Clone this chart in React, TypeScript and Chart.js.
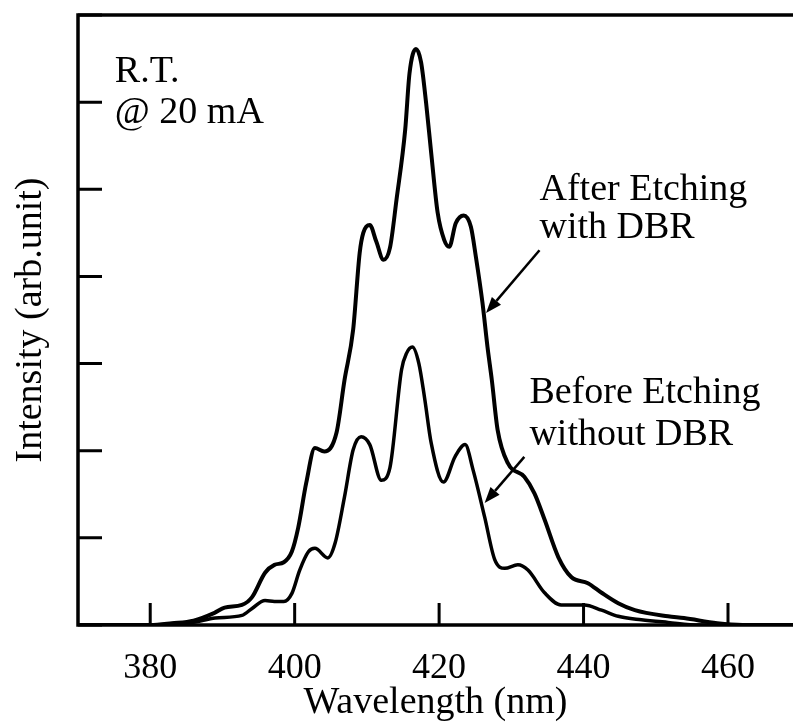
import React, { useEffect, useRef } from 'react';
import { Chart, registerables } from 'chart.js';

Chart.register(...registerables);

// ---- Data ----
const afterWl = [370, 380, 383, 386, 388.9, 390.3, 392.7, 394.1, 395.9, 397.2, 398.5, 399.6, 400.5, 401.6, 402.8, 404.1, 405.8, 406.9, 408.1, 409.0, 409.5, 410.4, 411.3, 412.3, 413.2, 414.1, 415.3, 415.9, 416.8, 417.5, 418.2, 418.9, 419.8, 420.7, 421.4, 422.3, 423.4, 424.4, 425.1, 426.0, 426.7, 427.3, 428.1, 429.5, 431.8, 433.2, 434.6, 436.5, 438.3, 440.6, 442.5, 444.8, 447.1, 451.7, 453.9, 458.5, 462, 469];
const afterInt = [0, 0, 0.02, 0.05, 0.14, 0.2, 0.23, 0.32, 0.6, 0.69, 0.72, 0.84, 1.12, 1.63, 2.03, 1.99, 2.21, 2.81, 3.39, 4.27, 4.5, 4.59, 4.4, 4.19, 4.33, 4.88, 5.68, 6.33, 6.61, 6.46, 5.99, 5.42, 4.73, 4.42, 4.34, 4.61, 4.7, 4.57, 4.22, 3.7, 3.19, 2.81, 2.24, 1.86, 1.7, 1.51, 1.21, 0.78, 0.55, 0.48, 0.37, 0.25, 0.17, 0.1, 0.08, 0.02, 0, 0];

const beforeWl = [370, 382, 386, 389, 392.7, 394.1, 395.9, 397.2, 398.5, 399.6, 400.7, 401.9, 402.8, 404.6, 405.6, 406.9, 408.1, 409.2, 410.4, 412.0, 413.2, 414.8, 415.5, 416.3, 417.2, 418.0, 418.9, 420.6, 422.2, 423.6, 424.7, 426.3, 427.7, 429.1, 430.9, 432.3, 434.6, 436.9, 440.1, 442.5, 444.8, 448.0, 451.7, 456, 469];
const beforeInt = [0, 0, 0.03, 0.08, 0.11, 0.19, 0.28, 0.27, 0.27, 0.36, 0.63, 0.84, 0.88, 0.77, 0.94, 1.47, 2.01, 2.16, 2.07, 1.66, 1.81, 2.93, 3.12, 3.19, 3.0, 2.6, 2.09, 1.64, 1.93, 2.07, 1.78, 1.24, 0.75, 0.65, 0.69, 0.63, 0.37, 0.23, 0.23, 0.17, 0.1, 0.06, 0.03, 0, 0];

const xTickValues = [380, 400, 420, 440, 460];
const yTickValues = [0, 1, 2, 3, 4, 5, 6, 7];
const xRange = [370, 469];
const yRange = [0, 7];

const xTitle = 'Wavelength (nm)';
const yTitle = 'Intensity (arb.unit)';

const noteTexts = ['R.T.', '@ 20 mA', 'After Etching', 'with DBR', 'Before Etching', 'without DBR'];
const noteX = [375.1, 375.1, 433.9, 433.9, 432.5, 432.5];
const noteY = [6.23, 5.76, 4.88, 4.44, 2.55, 2.07];

const arrowFromX = [433.9, 431.8];
const arrowFromY = [4.3, 1.93];
const arrowToX = [426.5, 426.3];
const arrowToY = [3.58, 1.4];

const FONT = '"Liberation Serif", "Times New Roman", serif';

const framePlugin = {
  id: 'frameAndNotes',
  afterDatasetsDraw(chart: any) {
    const { ctx, chartArea, scales } = chart;
    const { left, right, top, bottom } = chartArea;
    const x = scales.x;
    const y = scales.y;
    ctx.save();
    ctx.strokeStyle = '#000';
    ctx.fillStyle = '#000';
    // frame
    ctx.lineWidth = 3.5;
    ctx.lineCap = 'butt';
    ctx.beginPath();
    ctx.moveTo(right + 10, top);
    ctx.lineTo(left, top);
    ctx.lineTo(left, bottom);
    ctx.lineTo(right + 10, bottom);
    ctx.stroke();
    // inward ticks
    ctx.lineWidth = 3;
    ctx.beginPath();
    x.ticks.forEach((t: any) => {
      const px = x.getPixelForValue(t.value);
      ctx.moveTo(px, bottom);
      ctx.lineTo(px, bottom - 22);
    });
    y.ticks.forEach((t: any) => {
      const py = y.getPixelForValue(t.value);
      ctx.moveTo(left, py);
      ctx.lineTo(left + 24, py);
    });
    ctx.stroke();
    // notes
    ctx.font = `38px ${FONT}`;
    ctx.textAlign = 'left';
    ctx.textBaseline = 'alphabetic';
    noteTexts.forEach((t, i) => {
      ctx.fillText(t, x.getPixelForValue(noteX[i]), y.getPixelForValue(noteY[i]));
    });
    // arrows
    ctx.lineWidth = 2.5;
    arrowFromX.forEach((_, i) => {
      const x1 = x.getPixelForValue(arrowFromX[i]);
      const y1 = y.getPixelForValue(arrowFromY[i]);
      const x2 = x.getPixelForValue(arrowToX[i]);
      const y2 = y.getPixelForValue(arrowToY[i]);
      const ang = Math.atan2(y2 - y1, x2 - x1);
      const hl = 16;
      const hw = 6;
      const bx = x2 - hl * Math.cos(ang);
      const by = y2 - hl * Math.sin(ang);
      ctx.beginPath();
      ctx.moveTo(x1, y1);
      ctx.lineTo(bx, by);
      ctx.stroke();
      ctx.beginPath();
      ctx.moveTo(x2, y2);
      ctx.lineTo(bx + hw * Math.sin(ang), by - hw * Math.cos(ang));
      ctx.lineTo(bx - hw * Math.sin(ang), by + hw * Math.cos(ang));
      ctx.closePath();
      ctx.fill();
    });
    ctx.restore();
  },
};

export default function App() {
  const ref = useRef<HTMLCanvasElement | null>(null);
  useEffect(() => {
    document.body.style.margin = '0';
    if (!ref.current) return;
    const chart = new Chart(ref.current, {
      type: 'line',
      data: {
        datasets: [
          {
            label: 'After Etching with DBR',
            data: afterWl.map((w, i) => ({ x: w, y: afterInt[i] })),
            borderColor: '#000',
            borderWidth: 4,
            pointRadius: 0,
            cubicInterpolationMode: 'monotone',
            fill: false,
          },
          {
            label: 'Before Etching without DBR',
            data: beforeWl.map((w, i) => ({ x: w, y: beforeInt[i] })),
            borderColor: '#000',
            borderWidth: 3.5,
            pointRadius: 0,
            cubicInterpolationMode: 'monotone',
            fill: false,
          },
        ],
      },
      options: {
        animation: false,
        responsive: true,
        maintainAspectRatio: false,
        layout: { padding: { top: 15, left: 0, right: 0, bottom: 0 } },
        plugins: { legend: { display: false }, tooltip: { enabled: false } },
        scales: {
          x: {
            type: 'linear',
            min: xRange[0],
            max: xRange[1],
            afterBuildTicks: (s: any) => {
              s.ticks = xTickValues.map((v) => ({ value: v }));
            },
            afterFit: (s: any) => {
              s.height = 97;
            },
            grid: { display: false },
            border: { display: false },
            ticks: {
              color: '#000',
              font: { family: FONT, size: 36 },
              padding: 14,
              maxRotation: 0,
              autoSkip: false,
            },
            title: {
              display: true,
              text: xTitle,
              color: '#000',
              font: { family: FONT, size: 38, lineHeight: 1 },
              padding: 0,
            },
          },
          y: {
            type: 'linear',
            min: yRange[0],
            max: yRange[1],
            afterBuildTicks: (s: any) => {
              s.ticks = yTickValues.map((v) => ({ value: v }));
            },
            afterFit: (s: any) => {
              s.width = 78;
            },
            grid: { display: false },
            border: { display: false },
            ticks: { display: false },
            title: {
              display: true,
              text: yTitle,
              color: '#000',
              font: { family: FONT, size: 38, lineHeight: 1.2 },
              padding: { top: 8, bottom: 0 },
            },
          },
        },
      },
      plugins: [framePlugin],
    });
    return () => chart.destroy();
  }, []);
  return (
    <div style={{ width: 793, height: 722, position: 'relative', background: '#fff' }}>
      <canvas ref={ref} />
    </div>
  );
}
